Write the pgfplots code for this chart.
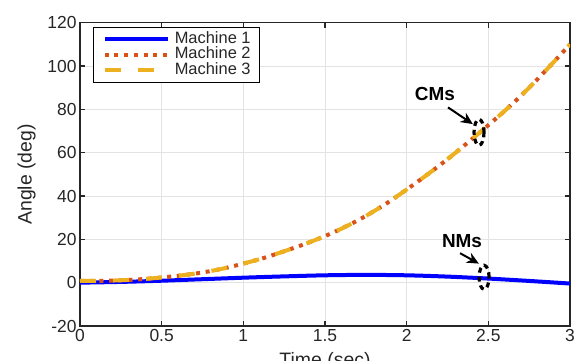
\documentclass[border=0pt]{standalone}
\usepackage{fontspec}
\setmainfont{Liberation Sans}
\usepackage{pgfplots}
\pgfplotsset{compat=1.18}
\usetikzlibrary{arrows.meta}
\definecolor{mred}{rgb}{0.85,0.325,0.098}
\definecolor{myel}{rgb}{0.929,0.694,0.125}
\definecolor{axgray}{HTML}{262626}
\definecolor{gridgray}{HTML}{E3E3E3}
\begin{document}
\begin{tikzpicture}
\begin{axis}[name=ax, scale only axis, width=490bp, height=303.3bp,
 xmin=0,xmax=3,ymin=-20,ymax=120,
 xtick={0,0.5,1,1.5,2,2.5,3}, ytick={-20,0,20,40,60,80,100,120},
 xticklabels={0,0.5,1,1.5,2,2.5,3},
 yticklabels={-20,0,20,40,60,80,100,120},
 grid=major, major grid style={gridgray, line width=0.8bp},
 axis line style={axgray, line width=1.3bp},
 tick style={axgray, line width=1.3bp},
 tick align=inside, major tick length=5bp,
 every tick label/.append style={font=\fontsize{17.5}{17.5}\selectfont, text=axgray},
 /pgf/number format/assume math mode=true,
 xlabel={Time (sec)}, ylabel={Angle (deg)},
 label style={font=\fontsize{19.5}{19.5}\selectfont, text=axgray},
 xlabel style={at={(axis description cs:0.5,-0.1319)}, anchor=base},
 ylabel style={at={(axis description cs:-0.1088,0.5)}, anchor=center},
 legend style={at={(axis description cs:0.0271,0.9868)}, anchor=north west, draw=black, line width=1bp, fill=white, inner xsep=9bp, inner ysep=4.5bp, font=\fontsize{16.5}{16.5}\selectfont, text=axgray, row sep=0pt, column sep=5bp, nodes={inner sep=0pt, text height=11.8bp, text depth=3.6bp}},
 legend cell align=left,
 legend image code/.code={\draw[#1] (0bp,0bp) -- (63bp,0bp);},
]
\addplot[blue, line width=4bp, smooth] table {
0 0
0.25 0.35
0.5 0.9
0.75 1.6
1 2.3
1.25 2.9
1.5 3.4
1.75 3.6
2 3.4
2.25 2.8
2.5 1.9
2.75 0.8
3 -0.4
};
\addlegendentry{Machine 1}
\addplot[mred, line width=4bp, dash pattern=on 4bp off 5.7bp, smooth] table {
0 0.8
0.125 0.85
0.25 1.1
0.375 1.6
0.5 2.4
0.625 3.4
0.75 4.7
0.875 6.5
1 8.8
1.125 11.4
1.25 14.5
1.375 17.8
1.5 21.5
1.625 25.8
1.75 30.8
1.875 36.5
2 43
2.125 49.8
2.25 57
2.375 64.7
2.5 72.7
2.625 81
2.75 90
2.875 99.8
3 110
};
\addlegendentry{Machine 2}
\addplot[myel, line width=4bp, dash pattern=on 16bp off 17bp, smooth] table {
0 0.8
0.125 0.85
0.25 1.1
0.375 1.6
0.5 2.4
0.625 3.4
0.75 4.7
0.875 6.5
1 8.8
1.125 11.4
1.25 14.5
1.375 17.8
1.5 21.5
1.625 25.8
1.75 30.8
1.875 36.5
2 43
2.125 49.8
2.25 57
2.375 64.7
2.5 72.7
2.625 81
2.75 90
2.875 99.8
3 110
};
\addlegendentry{Machine 3}
\node[font=\bfseries\fontsize{19}{19}\selectfont, text=black] at (axis cs:2.173,87.3) {CMs};
\draw[black, line width=2bp, -{Stealth[length=12bp,width=11bp]}] (axis cs:2.253,80.9) -- (axis cs:2.405,73.2);
\draw[black, line width=3.2bp, dash pattern=on 5bp off 4bp] (axis cs:2.443,69.4) ellipse [x radius=5bp, y radius=13bp];
\node[font=\bfseries\fontsize{19}{19}\selectfont, text=black] at (axis cs:2.339,19.1) {NMs};
\draw[black, line width=2bp, -{Stealth[length=12bp,width=11bp]}] (axis cs:2.327,13.6) -- (axis cs:2.442,8.8);
\draw[black, line width=3.2bp, dash pattern=on 5bp off 4bp] (axis cs:2.474,2.5) ellipse [x radius=5bp, y radius=12bp];
\end{axis}
\pgfresetboundingbox
\useasboundingbox ([xshift=-80bp,yshift=-35bp]ax.south west) rectangle ([xshift=11bp,yshift=22.7bp]ax.north east);
\end{tikzpicture}
\end{document}
